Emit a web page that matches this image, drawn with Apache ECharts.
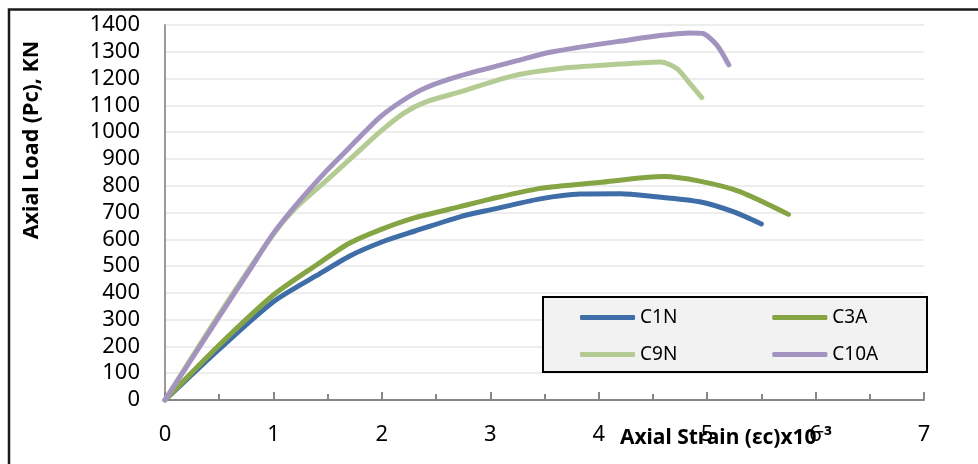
<!DOCTYPE html>
<html>
<head>
<meta charset="utf-8">
<script src="https://cdn.jsdelivr.net/npm/echarts@6/dist/echarts.min.js"></script>
<style>
html,body{margin:0;padding:0;background:#fff;}
#chart{width:978px;height:464px;}
</style>
</head>
<body>
<div id="chart"></div>
<script>
// ---- data ----
const seriesNames = ['C1N', 'C3A', 'C9N', 'C10A'];
const xTicks = [0, 1, 2, 3, 4, 5, 6, 7];
const yTicks = [0, 100, 200, 300, 400, 500, 600, 700, 800, 900, 1000, 1100, 1200, 1300, 1400];

const c1nStrain = [0, 0.5, 1.0, 1.4, 1.7, 2.0, 2.3, 2.72, 3.0, 3.46, 3.83, 4.2, 4.5, 4.93, 5.24, 5.5];
const c1nLoad   = [0, 190, 367, 465, 537, 590, 630, 684, 710, 751, 769, 770, 760, 740, 703, 657];

const c3aStrain = [0, 0.5, 1.0, 1.4, 1.7, 2.0, 2.3, 2.72, 3.0, 3.46, 4.0, 4.6, 4.93, 5.3, 5.75];
const c3aLoad   = [0, 205, 392, 505, 585, 638, 680, 722, 750, 790, 812, 834, 817, 778, 693];

const c9nStrain = [0, 0.5, 1.0, 1.2, 1.49, 1.75, 1.98, 2.2, 2.4, 2.72, 3.21, 3.7, 4.2, 4.57, 4.72, 4.84, 4.95];
const c9nLoad   = [0, 320, 620, 715, 820, 915, 1000, 1070, 1112, 1150, 1210, 1240, 1254, 1262, 1238, 1182, 1129];

const c10aStrain = [0, 0.48, 0.78, 1.0, 1.245, 1.5, 1.7, 1.98, 2.2, 2.4, 2.72, 3.27, 3.55, 4.17, 4.84, 4.96, 5.09, 5.2];
const c10aLoad   = [0, 299, 485, 622, 745, 860, 942, 1055, 1120, 1165, 1210, 1269, 1298, 1338, 1370, 1368, 1325, 1251];

const colors = ['#3f6da7', '#85a444', '#b4cc93', '#a394bf'];

function pairs(xs, ys) { return xs.map((x, i) => [x, ys[i]]); }
const allData = [
  pairs(c1nStrain, c1nLoad),
  pairs(c3aStrain, c3aLoad),
  pairs(c9nStrain, c9nLoad),
  pairs(c10aStrain, c10aLoad)
];

const FONT = '"Noto Sans", "Open Sans", sans-serif';

const chart = echarts.init(document.getElementById('chart'), null, { renderer: 'canvas' });

const legendCommon = {
  orient: 'horizontal',
  itemWidth: 55,
  itemHeight: 5,
  itemGap: 95,
  padding: 0,
  icon: 'roundRect',
  z: 10,
  textStyle: { fontFamily: FONT, fontSize: 19, color: '#000' }
};

const option = {
  animation: false,
  backgroundColor: '#fff',
  color: colors,
  grid: { left: 165, right: 54, top: 25, bottom: 64, containLabel: false },
  xAxis: {
    type: 'value',
    min: xTicks[0],
    max: xTicks[xTicks.length - 1],
    interval: 1,
    axisLine: { show: true, lineStyle: { color: '#868686', width: 2 } },
    axisTick: { show: true, inside: true, length: 8, lineStyle: { color: '#868686', width: 2 } },
    minorTick: { show: true, splitNumber: 2, length: 6, lineStyle: { color: '#868686', width: 2 } },
    splitLine: { show: false },
    axisLabel: { color: '#000', fontFamily: FONT, fontSize: 22, margin: 24, formatter: v => String(v) }
  },
  yAxis: {
    type: 'value',
    min: yTicks[0],
    max: yTicks[yTicks.length - 1],
    interval: 100,
    axisLine: { show: true, lineStyle: { color: '#9a9a9a', width: 2 } },
    axisTick: { show: false },
    splitLine: { show: true, lineStyle: { color: '#ededed', width: 2 } },
    axisLabel: { color: '#000', fontFamily: FONT, fontSize: 22, margin: 25, formatter: v => String(v) }
  },
  legend: [
    Object.assign({}, legendCommon, { data: [seriesNames[0], seriesNames[1]], left: 580, top: 308 }),
    Object.assign({}, legendCommon, { data: [seriesNames[2], seriesNames[3]], left: 580, top: 345 })
  ],
  graphic: [
    {
      type: 'rect', z: 5,
      shape: { x: 543, y: 297, width: 384, height: 75 },
      style: { fill: '#f2f2f2', stroke: '#000', lineWidth: 2 }
    },
    {
      type: 'rect', z: 20, silent: true,
      shape: { x: 9, y: 9.5, width: 1000, height: 500 },
      style: { fill: 'none', stroke: '#1a1a1a', lineWidth: 2.5 }
    },
    {
      type: 'text', z: 20,
      x: 32, y: 140, rotation: Math.PI / 2,
      style: {
        text: 'Axial Load (Pc), KN',
        fontFamily: FONT, fontSize: 21.5, fontWeight: 'bold', fill: '#000',
        textAlign: 'center', textVerticalAlign: 'middle'
      }
    },
    {
      type: 'text', z: 20,
      x: 726, y: 438,
      style: {
        text: 'Axial Strain (εc)x10⁻³',
        fontFamily: FONT, fontSize: 21, fontWeight: 'bold', fill: '#000',
        textAlign: 'center', textVerticalAlign: 'middle'
      }
    }
  ],
  series: seriesNames.map((name, i) => ({
    name: name,
    type: 'line',
    data: allData[i],
    smooth: 0.25,
    symbol: 'none',
    z: 2 + i,
    lineStyle: { width: 5, color: colors[i], cap: 'round', join: 'round' },
    itemStyle: { color: colors[i] }
  }))
};

chart.setOption(option);
</script>
</body>
</html>
